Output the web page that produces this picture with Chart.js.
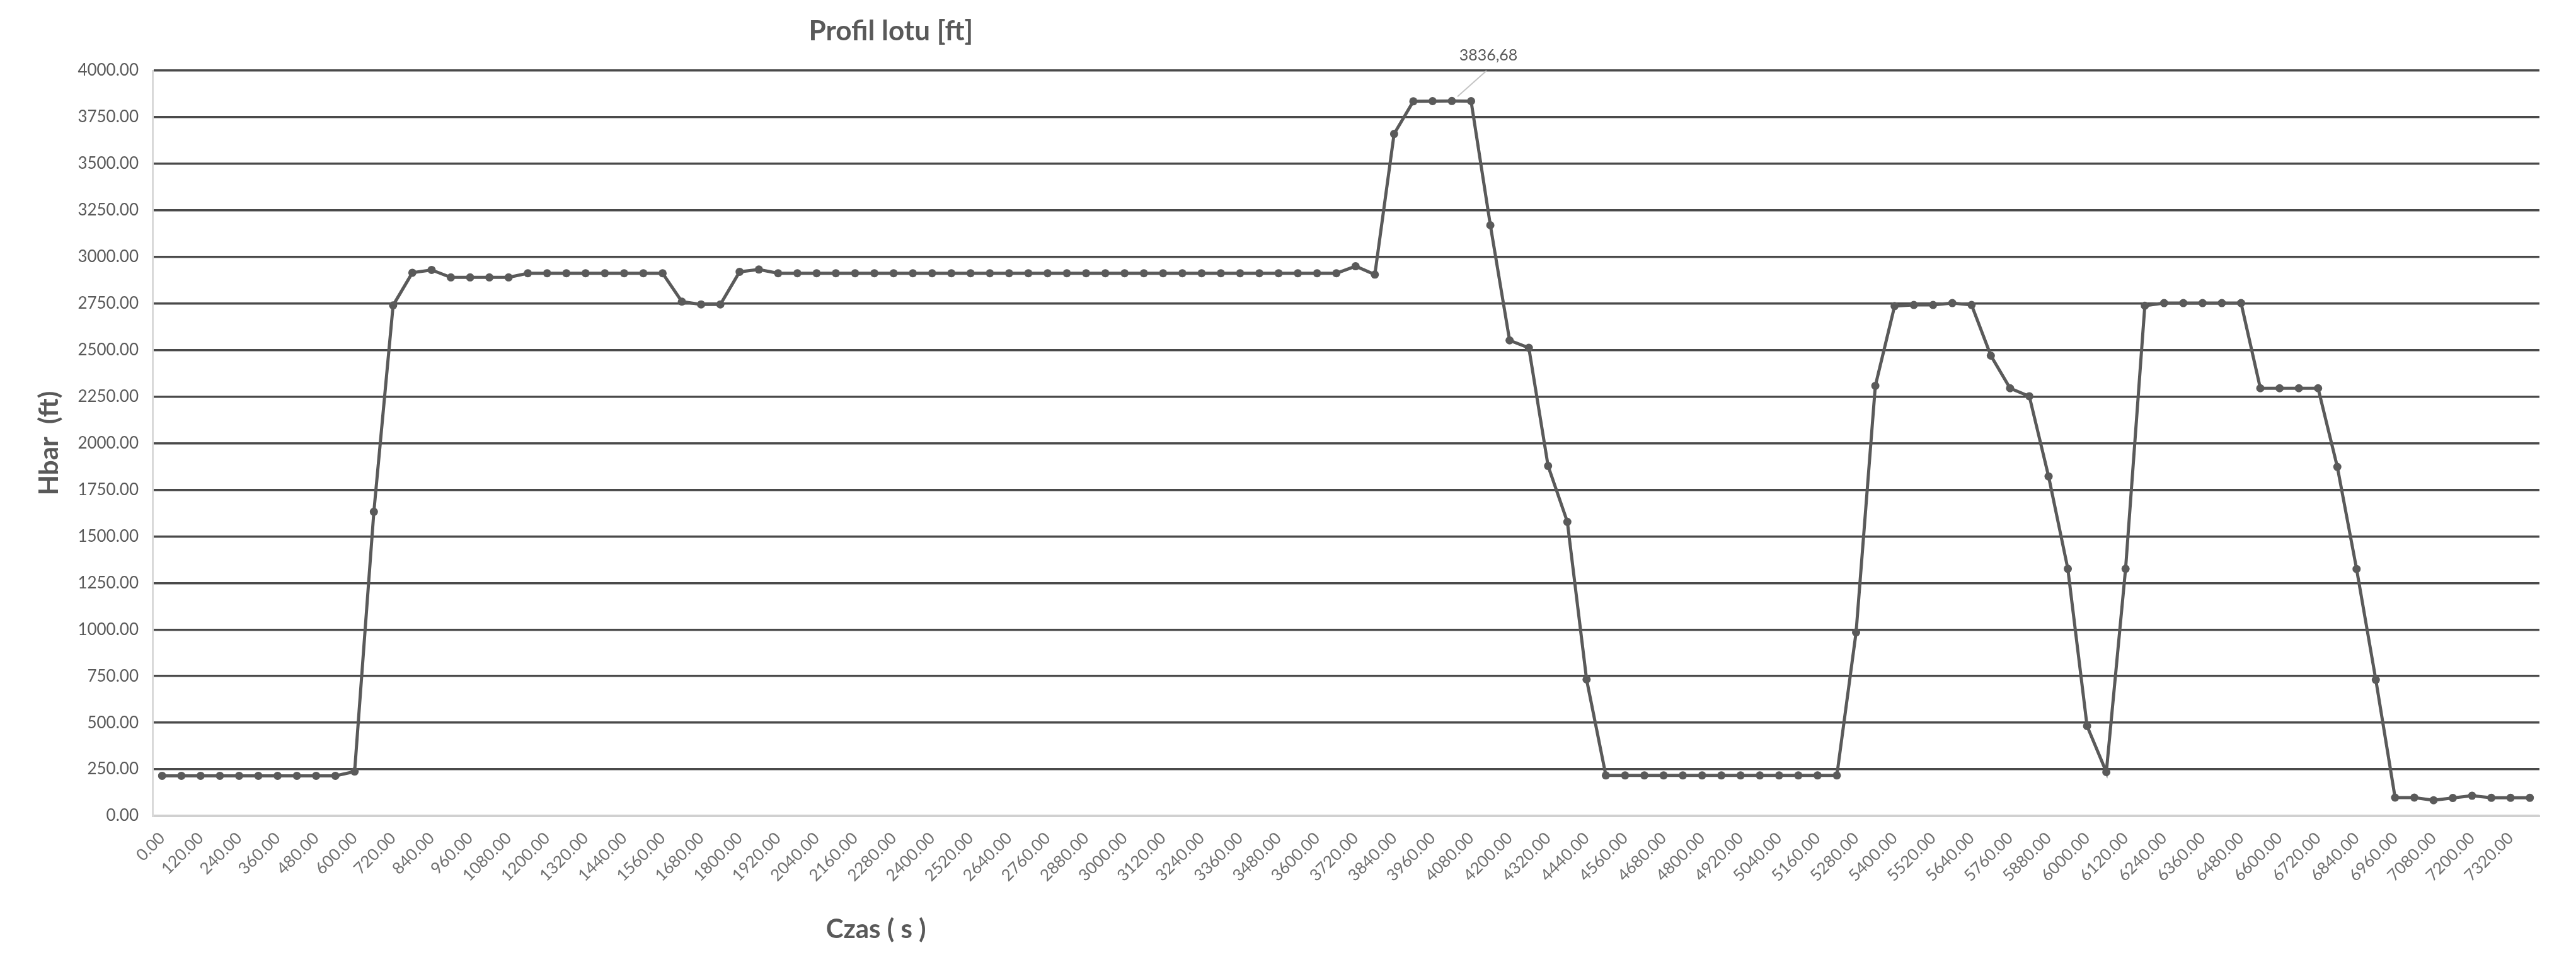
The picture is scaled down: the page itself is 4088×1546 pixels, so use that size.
<!DOCTYPE html>
<html>
<head>
<meta charset="utf-8">
<style>
  html, body { margin: 0; padding: 0; background: #ffffff; }
  #wrap { width: 4088px; height: 1546px; }
</style>
<script src="https://cdn.jsdelivr.net/npm/chart.js@4.4.1/dist/chart.umd.min.js"></script>
</head>
<body>
<div id="wrap"><canvas id="c" width="4088" height="1546"></canvas></div>
<script>
// ---------- DATA ----------
const chartTitle = "Profil lotu [ft]";
const xAxisTitle = "Czas ( s )";
const yAxisTitle = "Hbar  (ft)";

const timeLabels = [
  "0.00","60.00","120.00","180.00","240.00","300.00","360.00","420.00","480.00","540.00",
  "600.00","660.00","720.00","780.00","840.00","900.00","960.00","1020.00","1080.00","1140.00",
  "1200.00","1260.00","1320.00","1380.00","1440.00","1500.00","1560.00","1620.00","1680.00","1740.00",
  "1800.00","1860.00","1920.00","1980.00","2040.00","2100.00","2160.00","2220.00","2280.00","2340.00",
  "2400.00","2460.00","2520.00","2580.00","2640.00","2700.00","2760.00","2820.00","2880.00","2940.00",
  "3000.00","3060.00","3120.00","3180.00","3240.00","3300.00","3360.00","3420.00","3480.00","3540.00",
  "3600.00","3660.00","3720.00","3780.00","3840.00","3900.00","3960.00","4020.00","4080.00","4140.00",
  "4200.00","4260.00","4320.00","4380.00","4440.00","4500.00","4560.00","4620.00","4680.00","4740.00",
  "4800.00","4860.00","4920.00","4980.00","5040.00","5100.00","5160.00","5220.00","5280.00","5340.00",
  "5400.00","5460.00","5520.00","5580.00","5640.00","5700.00","5760.00","5820.00","5880.00","5940.00",
  "6000.00","6060.00","6120.00","6180.00","6240.00","6300.00","6360.00","6420.00","6480.00","6540.00",
  "6600.00","6660.00","6720.00","6780.00","6840.00","6900.00","6960.00","7020.00","7080.00","7140.00",
  "7200.00","7260.00","7320.00","7380.00"
];

const altitudeFt = [
  215, 215, 215, 215, 215, 215, 215, 215, 215, 215,
  238, 1632, 2740, 2915, 2930, 2890, 2890, 2890, 2890, 2912,
  2912, 2912, 2912, 2912, 2912, 2912, 2912, 2760, 2745, 2745,
  2920, 2932, 2912, 2912, 2912, 2912, 2912, 2912, 2912, 2912,
  2912, 2912, 2912, 2912, 2912, 2912, 2912, 2912, 2912, 2912,
  2912, 2912, 2912, 2912, 2912, 2912, 2912, 2912, 2912, 2912,
  2912, 2912, 2950, 2905, 3660, 3835, 3836, 3836.68, 3836, 3170,
  2552, 2512, 1878, 1578, 732, 217, 217, 217, 217, 217,
  217, 217, 217, 217, 217, 217, 217, 217, 985, 2308,
  2736, 2742, 2742, 2752, 2742, 2470, 2295, 2252, 1822, 1326,
  482, 235, 1326, 2738, 2752, 2752, 2752, 2752, 2752, 2295,
  2295, 2295, 2295, 1873, 1325, 730, 98, 98, 84, 96,
  108, 97, 97, 97
];

const yTickMin = 0;
const yTickMax = 4000;
const yTickStep = 250;
const peakLabelIndex = 67;
const peakLabelText = "3836,68";

// ---------- STYLE ----------
const FONT = "Lato, 'Open Sans', 'DejaVu Sans', sans-serif";
const TEXT_GRAY = "#595959";
const LINE_GRAY = "#5a5a5a";

// custom drawing of titles and the data label
const decorPlugin = {
  id: "decor",
  afterDraw(chart) {
    const ctx = chart.ctx;
    const a = chart.chartArea;
    const w = a.right - a.left;
    ctx.save();
    ctx.fillStyle = TEXT_GRAY;
    ctx.textAlign = "center";
    ctx.textBaseline = "middle";
    // chart title
    ctx.font = "bold 44px " + FONT;
    ctx.fillText(chartTitle, a.left + w * 0.3094, a.top - 62);
    // x axis title
    ctx.font = "bold 42px " + FONT;
    ctx.fillText(xAxisTitle, a.left + w * 0.3031, a.bottom + 180);
    // y axis title
    ctx.save();
    ctx.translate(a.left - 164, (a.top + a.bottom) / 2);
    ctx.rotate(-Math.PI / 2);
    ctx.font = "bold 42px " + FONT;
    ctx.fillText(yAxisTitle, 0, 0);
    ctx.restore();

    // data label with leader line
    const meta = chart.getDatasetMeta(0);
    const pt = meta.data[peakLabelIndex];
    if (pt) {
      ctx.strokeStyle = "#c4c4c4";
      ctx.lineWidth = 2;
      ctx.beginPath();
      ctx.moveTo(pt.x + 9, pt.y - 7);
      ctx.lineTo(pt.x + 55, pt.y - 48);
      ctx.stroke();
      ctx.font = "25px " + FONT;
      ctx.fillStyle = TEXT_GRAY;
      ctx.fillText(peakLabelText, pt.x + 58, pt.y - 72);
    }
    ctx.restore();
  }
};

Chart.defaults.font.family = FONT;

new Chart(document.getElementById("c"), {
  type: "line",
  data: {
    labels: timeLabels,
    datasets: [{
      data: altitudeFt,
      borderColor: LINE_GRAY,
      borderWidth: 5,
      backgroundColor: LINE_GRAY,
      pointRadius: 6.5,
      pointBackgroundColor: LINE_GRAY,
      pointBorderWidth: 0,
      tension: 0,
      fill: false
    }]
  },
  options: {
    responsive: false,
    animation: false,
    devicePixelRatio: 1,
    layout: { padding: { left: 0, right: 58, top: 112, bottom: 0 } },
    plugins: {
      legend: { display: false },
      tooltip: { enabled: false },
      title: { display: false }
    },
    scales: {
      x: {
        type: "category",
        offset: true,
        grid: { display: false, drawTicks: false },
        border: { display: true, color: "#d0d0d0", width: 3 },
        ticks: {
          autoSkip: false,
          minRotation: 45,
          maxRotation: 45,
          padding: 20,
          color: "#707070",
          font: { size: 26, family: FONT },
          callback: function (value, index) {
            return index % 2 === 0 ? timeLabels[index] : "";
          }
        },
        afterFit: function (scale) { scale.height = 251; }
      },
      y: {
        min: yTickMin,
        max: yTickMax,
        grid: {
          drawTicks: false,
          lineWidth: 3.5,
          color: function (c) { return c.tick && c.tick.value === 0 ? "#d0d0d0" : "#4a4a4a"; }
        },
        border: { display: true, color: "#d9d9d9", width: 3 },
        ticks: {
          stepSize: yTickStep,
          padding: 22,
          color: TEXT_GRAY,
          font: { size: 26, family: FONT },
          callback: function (v) { return Number(v).toFixed(2); }
        },
        afterFit: function (scale) { scale.width = 242; }
      }
    }
  },
  plugins: [decorPlugin]
});
</script>
</body>
</html>
